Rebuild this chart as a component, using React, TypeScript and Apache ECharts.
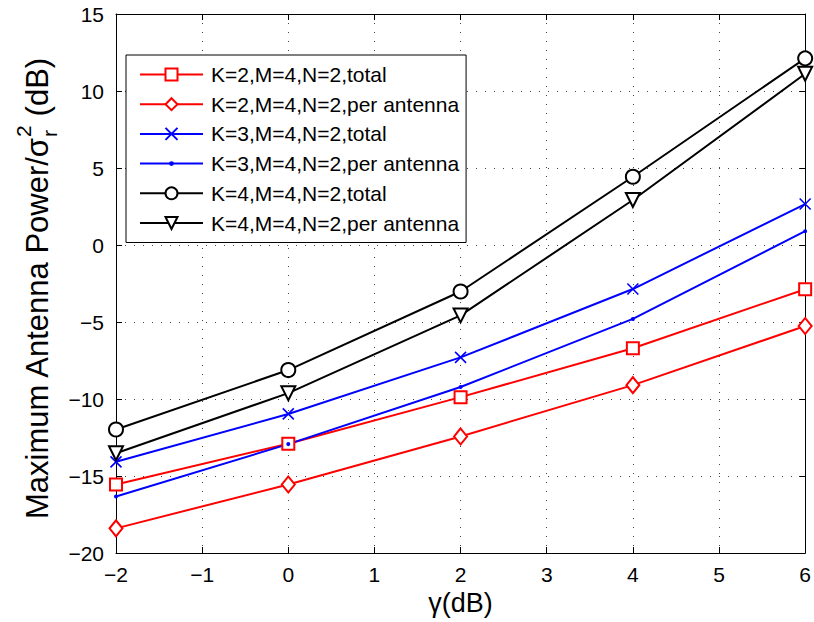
import React, { useEffect, useRef } from 'react';
import * as echarts from 'echarts';

const gammaDb = [-2, 0, 2, 4, 6];
const k2Total = [-15.55, -12.9, -9.88, -6.7, -2.87];
const k2PerAntenna = [-18.4, -15.55, -12.43, -9.1, -5.26];
const k3Total = [-14.08, -10.97, -7.3, -2.86, 2.66];
const k3PerAntenna = [-16.33, -12.93, -9.22, -4.8, 0.9];
const k4Total = [-11.98, -8.12, -3.02, 4.43, 12.12];
const k4PerAntenna = [-13.52, -9.62, -4.57, 2.92, 11.12];

const seriesNames = [
  'K=2,M=4,N=2,total',
  'K=2,M=4,N=2,per antenna',
  'K=3,M=4,N=2,total',
  'K=3,M=4,N=2,per antenna',
  'K=4,M=4,N=2,total',
  'K=4,M=4,N=2,per antenna',
];
const seriesValues = [k2Total, k2PerAntenna, k3Total, k3PerAntenna, k4Total, k4PerAntenna];
const seriesColors = ['#ff0000', '#ff0000', '#0000ff', '#0000ff', '#000000', '#000000'];

const xMin = -2;
const xMax = 6;
const xStep = 1;
const yMin = -20;
const yMax = 15;
const yStep = 5;

const FONT = '"Liberation Sans", Arial, Helvetica, sans-serif';
const fmt = (v: number) => String(v).replace('-', '\u2212');

const dotPath = 'path://M0,0L0.01,0M10,10L10.01,10M7,5A2,2,0,1,1,3,5A2,2,0,1,1,7,5Z';
const xPath = 'path://M1,1L9,9M9,1L1,9';

const symbolDefs: any[] = [
  { symbol: 'emptyRect', symbolSize: 12, symbolRotate: 0 },
  { symbol: 'emptyDiamond', symbolSize: [13, 16], symbolRotate: 0 },
  { symbol: xPath, symbolSize: 11, symbolRotate: 0 },
  { symbol: dotPath, symbolSize: 10, symbolRotate: 0 },
  { symbol: 'emptyCircle', symbolSize: 14, symbolRotate: 0 },
  { symbol: 'emptyTriangle', symbolSize: 14, symbolRotate: 180 },
];

export default function App() {
  const ref = useRef<HTMLDivElement>(null);
  useEffect(() => {
    if (!ref.current) return;
    const chart = echarts.init(ref.current, undefined, { renderer: 'svg' });
    const series = seriesNames.map((name, i) => ({
      name,
      type: 'line',
      data: gammaDb.map((g, j) => [g, seriesValues[i][j]]),
      symbol: symbolDefs[i].symbol,
      symbolSize: symbolDefs[i].symbolSize,
      symbolRotate: symbolDefs[i].symbolRotate,
      showAllSymbol: true,
      clip: false,
      lineStyle: { color: seriesColors[i], width: 2 },
      itemStyle: {
        color: seriesColors[i],
        borderColor: seriesColors[i],
        borderWidth: i === 3 ? 0 : 1.6,
      },
      emphasis: { disabled: true },
      z: 3,
    }));
    const gridLine = { show: true, lineStyle: { color: '#444', width: 1, type: [1, 8] as any } };
    const axisLine = { show: true, onZero: false, lineStyle: { color: '#000', width: 1 } };
    const tick = { show: true, inside: true, length: 6, lineStyle: { color: '#000', width: 1 } };
    chart.setOption({
      animation: false,
      backgroundColor: '#ffffff',
      grid: { left: 116, right: 4, top: 14, bottom: 69, containLabel: false },
      xAxis: [
        {
          type: 'value', min: xMin, max: xMax, interval: xStep,
          axisLine, axisTick: tick, splitLine: gridLine,
          axisLabel: { formatter: fmt, color: '#000', fontSize: 21, fontFamily: FONT, margin: 11 },
          name: '\u03b3(dB)', nameLocation: 'middle', nameGap: 36,
          nameTextStyle: { color: '#000', fontSize: 27, fontFamily: FONT },
        },
        {
          type: 'value', min: xMin, max: xMax, interval: xStep, position: 'top',
          axisLine, axisTick: tick, splitLine: { show: false }, axisLabel: { show: false },
        },
      ],
      yAxis: [
        {
          type: 'value', min: yMin, max: yMax, interval: yStep,
          axisLine, axisTick: tick, splitLine: gridLine,
          axisLabel: { formatter: fmt, color: '#000', fontSize: 21, fontFamily: FONT, margin: 12 },
        },
        {
          type: 'value', min: yMin, max: yMax, interval: yStep, position: 'right',
          axisLine, axisTick: tick, splitLine: { show: false }, axisLabel: { show: false },
        },
      ],
      legend: {
        orient: 'vertical',
        left: 126,
        top: 55,
        itemWidth: 63,
        itemHeight: 15,
        itemGap: 8.7,
        padding: [9, 7, 9, 13],
        borderColor: '#000',
        borderWidth: 1,
        backgroundColor: '#fff',
        selectedMode: false,
        data: seriesNames,
        textStyle: { color: '#000', fontSize: 21, fontFamily: FONT, lineHeight: 21, padding: [0, 0, 0, 3] },
      },
      graphic: [
        {
          type: 'group',
          x: 37,
          y: 138,
          rotation: Math.PI / 2,
          silent: true,
          children: [
            {
              type: 'text', x: 0, y: 0,
              style: { text: 'Maximum Antenna Power/\u03c3', fill: '#000', fontSize: 31, fontFamily: FONT, align: 'right', verticalAlign: 'middle' },
            },
            {
              type: 'text', x: 1, y: -14,
              style: { text: '2', fill: '#000', fontSize: 21, fontFamily: FONT, align: 'left', verticalAlign: 'middle' },
            },
            {
              type: 'text', x: 1, y: 12,
              style: { text: 'r', fill: '#000', fontSize: 21, fontFamily: FONT, align: 'left', verticalAlign: 'middle' },
            },
            {
              type: 'text', x: 13, y: 0,
              style: { text: ' (dB)', fill: '#000', fontSize: 31, fontFamily: FONT, align: 'left', verticalAlign: 'middle' },
            },
          ],
        },
      ],
      series,
    });
    return () => chart.dispose();
  }, []);
  return (
    <div
      ref={ref}
      style={{ position: 'fixed', left: 0, top: 0, width: 814, height: 622, background: '#fff' }}
    />
  );
}
